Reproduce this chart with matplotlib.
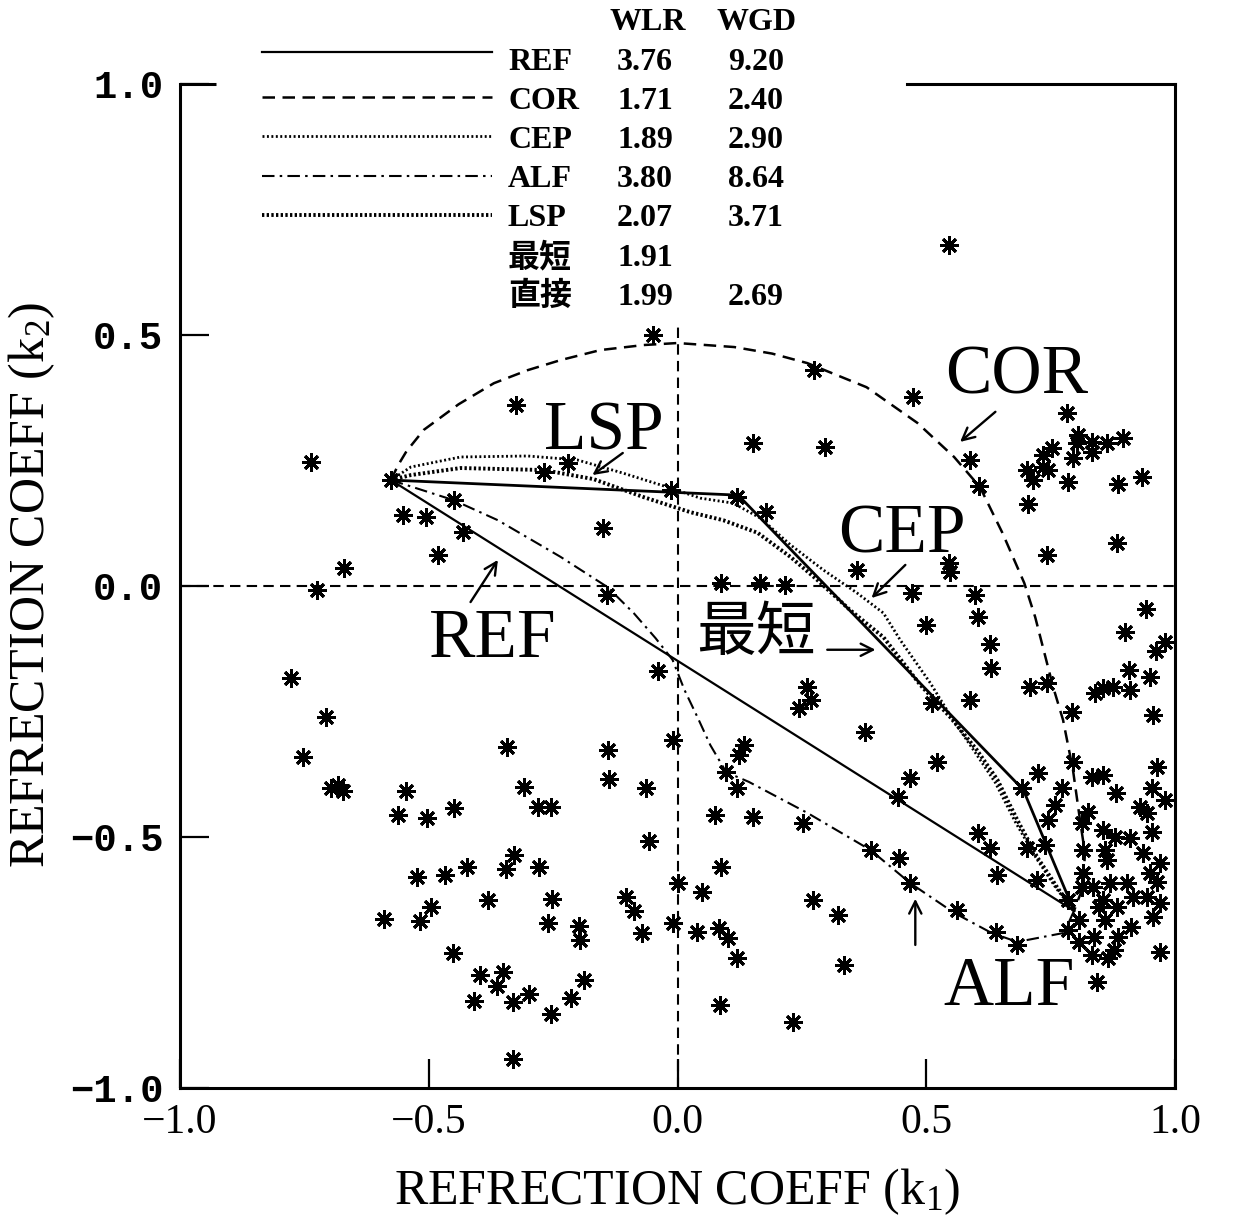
import numpy as np
import matplotlib
matplotlib.use('Agg')
from matplotlib import pyplot as plt
from matplotlib.lines import Line2D

plt.rcParams['font.family'] = ['Liberation Serif', 'Noto Sans CJK JP', 'DejaVu Sans']
plt.rcParams['mathtext.fontset'] = 'custom'
plt.rcParams['mathtext.rm'] = 'Liberation Serif'
plt.rcParams['mathtext.it'] = 'Liberation Serif:italic'

# --- trajectories in the (k1, k2) plane ---
ref_k1 = [-0.576, 0.797]
ref_k2 = [0.211, -0.647]

short_k1 = [-0.576, 0.122, 0.695, 0.797]
short_k2 = [0.211, 0.181, -0.406, -0.647]

cor_k1 = [-0.576, -0.562, -0.545, -0.510, -0.440, -0.369, -0.301, -0.235, -0.155, -0.068, 0.000, 0.114,
          0.190, 0.261, 0.380, 0.482, 0.556, 0.608, 0.653, 0.697, 0.719, 0.755, 0.775, 0.795, 0.809,
          0.819, 0.815, 0.797]
cor_k2 = [0.211, 0.240, 0.268, 0.311, 0.362, 0.404, 0.430, 0.450, 0.470, 0.480, 0.484, 0.476,
          0.463, 0.444, 0.396, 0.325, 0.257, 0.197, 0.106, 0.006, -0.062, -0.201, -0.267, -0.367, -0.466,
          -0.532, -0.600, -0.647]

cep_k1 = [-0.576, -0.536, -0.436, -0.301, -0.201, -0.110, -0.020, 0.046, 0.112, 0.167, 0.227, 0.293,
          0.361, 0.414, 0.448, 0.508, 0.554, 0.598, 0.639, 0.679, 0.721, 0.761, 0.797]
cep_k2 = [0.211, 0.237, 0.257, 0.259, 0.251, 0.225, 0.197, 0.175, 0.165, 0.135, 0.082, 0.032,
          -0.014, -0.054, -0.108, -0.193, -0.267, -0.331, -0.392, -0.470, -0.542, -0.602, -0.647]

lsp_k1 = [-0.576, -0.536, -0.436, -0.269, -0.169, -0.068, 0.026, 0.092, 0.161, 0.227, 0.281, 0.347,
          0.414, 0.488, 0.548, 0.602, 0.643, 0.683, 0.723, 0.763, 0.797]
lsp_k2 = [0.211, 0.221, 0.235, 0.231, 0.213, 0.177, 0.147, 0.131, 0.106, 0.058, 0.012, -0.048,
          -0.102, -0.197, -0.261, -0.327, -0.386, -0.466, -0.540, -0.600, -0.647]

alf_k1 = [-0.576, -0.450, -0.361, -0.235, -0.141, -0.088, -0.044, -0.010, 0.014, 0.040, 0.066, 0.098,
          0.143, 0.261, 0.388, 0.468, 0.556, 0.631, 0.683, 0.777, 0.797]
alf_k2 = [0.211, 0.171, 0.131, 0.058, -0.002, -0.054, -0.104, -0.147, -0.207, -0.261, -0.317, -0.371,
          -0.390, -0.452, -0.526, -0.592, -0.651, -0.691, -0.709, -0.691, -0.647]

# --- observed frames (asterisks) ---
upper_k1 = [0.546, -0.050, 0.275, -0.325, 0.474, 0.151, 0.297, -0.737, -0.576, -0.450, -0.552, -0.506,
            -0.432, -0.482, -0.671, -0.725, -0.269, -0.221, -0.149, -0.141, -0.014, 0.120, 0.177, 0.088,
            0.165, 0.217, 0.361, 0.546, 0.548, 0.472, 0.598, 0.604, 0.500, 0.588, 0.606, 0.783, 0.805,
            0.803, 0.833, 0.833, 0.863, 0.896, 0.753, 0.735, 0.735, 0.745, 0.703, 0.715, 0.795, 0.785,
            0.886, 0.934, 0.705, 0.743, 0.884, 0.942]
upper_k2 = [0.679, 0.500, 0.430, 0.361, 0.376, 0.285, 0.277, 0.247, 0.211, 0.171, 0.141, 0.137,
            0.108, 0.062, 0.036, -0.008, 0.227, 0.245, 0.116, -0.018, 0.191, 0.177, 0.147, 0.006,
            0.006, 0.002, 0.032, 0.046, 0.028, -0.014, -0.018, -0.062, -0.078, 0.251, 0.199, 0.345, 0.301,
            0.285, 0.287, 0.267, 0.285, 0.295, 0.275, 0.261, 0.237, 0.231, 0.231, 0.211, 0.255, 0.207,
            0.203, 0.217, 0.163, 0.062, 0.086, -0.046]

left_k1 = [-0.777, -0.707, -0.753, -0.697, -0.683, -0.673, -0.546, -0.562, -0.504, -0.450, -0.343, -0.309,
           -0.281, -0.255, -0.139, -0.137, -0.064, -0.040, -0.010, -0.058, 0.000, -0.010, -0.104, -0.088,
           -0.072, -0.197, -0.195, -0.187, -0.215, -0.255, -0.299, -0.331, -0.351, -0.363, -0.396, -0.410,
           -0.452, -0.380, -0.329, -0.345, -0.279, -0.253, -0.261, -0.424, -0.468, -0.524, -0.496, -0.518,
           -0.590, -0.331]
left_k2 = [-0.183, -0.261, -0.341, -0.402, -0.396, -0.408, -0.408, -0.456, -0.462, -0.442, -0.321, -0.400,
           -0.440, -0.440, -0.327, -0.384, -0.402, -0.169, -0.307, -0.508, -0.592, -0.671, -0.620, -0.647,
           -0.691, -0.677, -0.705, -0.785, -0.821, -0.853, -0.813, -0.829, -0.769, -0.797, -0.775, -0.827,
           -0.731, -0.625, -0.536, -0.564, -0.560, -0.624, -0.671, -0.560, -0.576, -0.580, -0.639, -0.667,
           -0.663, -0.942]

mid_k1 = [0.261, 0.269, 0.245, 0.376, 0.512, 0.133, 0.124, 0.098, 0.120, 0.076, 0.151, 0.253, 0.388, 0.446,
          0.468, 0.468, 0.444, 0.088, 0.050, 0.040, 0.084, 0.102, 0.120, 0.273, 0.323, 0.335, 0.086, 0.233]
mid_k2 = [-0.201, -0.227, -0.243, -0.291, -0.233, -0.317, -0.337, -0.371, -0.402, -0.456, -0.460, -0.472,
          -0.526, -0.542, -0.592, -0.382, -0.420, -0.560, -0.610, -0.689, -0.681, -0.701, -0.741, -0.625,
          -0.655, -0.755, -0.835, -0.869]

right_k1 = [0.900, 0.629, 0.980, 0.962, 0.908, 0.950, 0.631, 0.709, 0.743, 0.839, 0.855, 0.876, 0.910,
            0.793, 0.956, 0.588, 0.522, 0.795, 0.725, 0.773, 0.693, 0.759, 0.745, 0.739, 0.703, 0.723,
            0.833, 0.855, 0.882, 0.964, 0.954, 0.980, 0.930, 0.944, 0.954, 0.825, 0.813, 0.855, 0.880,
            0.910, 0.859, 0.863, 0.815, 0.936, 0.970, 0.950, 0.964, 0.604, 0.629, 0.643, 0.562, 0.815,
            0.813, 0.835, 0.869, 0.904, 0.916, 0.944, 0.970, 0.855, 0.884, 0.785, 0.847, 0.859, 0.912,
            0.807, 0.785, 0.807, 0.837, 0.886, 0.833, 0.865, 0.878, 0.970, 0.843, 0.956, 0.641, 0.683]
right_k2 = [-0.092, -0.116, -0.112, -0.129, -0.167, -0.181, -0.163, -0.201, -0.193, -0.213, -0.203, -0.201,
            -0.207, -0.251, -0.257, -0.227, -0.351, -0.351, -0.373, -0.402, -0.402, -0.436, -0.466, -0.516,
            -0.522, -0.586, -0.380, -0.376, -0.412, -0.361, -0.402, -0.426, -0.440, -0.452, -0.490, -0.450,
            -0.472, -0.486, -0.500, -0.502, -0.526, -0.546, -0.526, -0.532, -0.552, -0.572, -0.590, -0.492,
            -0.522, -0.576, -0.645, -0.572, -0.600, -0.600, -0.592, -0.592, -0.620, -0.620, -0.631, -0.625,
            -0.639, -0.625, -0.639, -0.665, -0.679, -0.665, -0.685, -0.709, -0.699, -0.699, -0.735, -0.741,
            -0.725, -0.729, -0.789, -0.659, -0.689, -0.715]

# --- score table ---
leg_names = ['REF', 'COR', 'CEP', 'ALF', 'LSP', '最短', '直接']
leg_wlr = ['3.76', '1.71', '1.89', '3.80', '2.07', '1.91', '1.99']
leg_wgd = ['9.20', '2.40', '2.90', '8.64', '3.71', '', '2.69']

W, H = 1237, 1219
fig = plt.figure(figsize=(W / 100, H / 100), dpi=100)
ax = fig.add_axes([180 / W, 131 / H, 995 / W, 1004 / H])
ax.set_xlim(-1, 1)
ax.set_ylim(-1, 1)


def fx(px):
    return px / W


def fy(py):
    return 1 - py / H


styles = {
    'REF': dict(color='black', lw=1.6, ls='-'),
    'COR': dict(color='black', lw=1.8, dashes=(5, 3)),
    'CEP': dict(color='black', lw=2.0, dashes=(0.7, 0.9)),
    'ALF': dict(color='black', lw=1.5, dashes=(6, 2.5, 1.2, 2.5)),
    'LSP': dict(color='black', lw=2.8, dashes=(0.6, 0.6)),
}

# crosshair through the origin
ax.axhline(0, color='black', lw=1.5, dashes=(5, 3))
ax.axvline(0, ymax=0.762, color='black', lw=1.5, dashes=(5, 3))

ax.plot(ref_k1, ref_k2, **styles['REF'])
ax.plot(short_k1, short_k2, color='black', lw=2.0)
ax.plot(cor_k1, cor_k2, **styles['COR'])
ax.plot(cep_k1, cep_k2, **styles['CEP'])
ax.plot(lsp_k1, lsp_k2, **styles['LSP'])
ax.plot(alf_k1, alf_k2, **styles['ALF'])

all_k1 = upper_k1 + left_k1 + mid_k1 + right_k1
all_k2 = upper_k2 + left_k2 + mid_k2 + right_k2
ax.plot(all_k1, all_k2, ls='none', marker=(8, 2, 0), ms=13, mew=2.1, color='black')

# frame: top edge is interrupted by the score table
for s in ['left', 'bottom', 'right']:
    ax.spines[s].set_linewidth(2.2)
ax.spines['top'].set_visible(False)
ax.plot([-1, -0.928], [1, 1], color='black', lw=2.2, clip_on=False, solid_capstyle='butt')
ax.plot([0.462, 1], [1, 1], color='black', lw=2.2, clip_on=False, solid_capstyle='projecting')

ax.set_xticks([-1, -0.5, 0, 0.5, 1])
ax.set_yticks([-1, -0.5, 0, 0.5, 1])
ax.set_xticklabels(['−1.0', '−0.5', '0.0', '0.5', '1.0'], fontsize=30)
ax.set_yticklabels(['−1.0', '−0.5', '0.0', '0.5', '1.0'], fontsize=28, weight='bold',
                   family=['Liberation Mono', 'DejaVu Sans Mono'])
ax.tick_params(direction='in', length=21, width=1.6, top=False, right=False)
ax.tick_params(axis='x', pad=11)
ax.tick_params(axis='y', pad=12)

# method labels with arrows
big = 50
ax.text(0.538, 0.384, 'COR', fontsize=big, ha='left', va='baseline')
ax.text(-0.269, 0.271, 'LSP', fontsize=big, ha='left', va='baseline')
ax.text(0.323, 0.066, 'CEP', fontsize=big, ha='left', va='baseline')
ax.text(-0.500, -0.141, 'REF', fontsize=big, ha='left', va='baseline')
ax.text(0.534, -0.835, 'ALF', fontsize=big, ha='left', va='baseline')
ax.text(0.157, -0.094, '最短', fontsize=43, ha='center', va='center', family='Noto Sans CJK JP')

arrows = [((0.639, 0.347), (0.568, 0.287)),
          ((-0.110, 0.265), (-0.171, 0.221)),
          ((0.458, 0.042), (0.390, -0.024)),
          ((-0.416, -0.032), (-0.361, 0.052)),
          ((0.301, -0.127), (0.398, -0.127)),
          ((0.478, -0.715), (0.478, -0.623))]
for tail, tip in arrows:
    ax.annotate('', xy=tip, xytext=tail,
                arrowprops=dict(arrowstyle='->', lw=1.7, mutation_scale=22, color='black',
                                shrinkA=0, shrinkB=0))

# score table above the plot
tfs = 23
fig.text(fx(648), fy(22), 'WLR', fontsize=tfs, ha='center', va='center', weight='bold')
fig.text(fx(757), fy(22), 'WGD', fontsize=tfs, ha='center', va='center', weight='bold')
legend_keys = ['REF', 'COR', 'CEP', 'ALF', 'LSP']
for i, name in enumerate(leg_names):
    yc = 62 + 39.2 * i
    fig.text(fx(508), fy(yc), name, fontsize=tfs, ha='left', va='center', weight='bold')
    fig.text(fx(645), fy(yc), leg_wlr[i], fontsize=tfs, ha='center', va='center', weight='bold')
    fig.text(fx(756), fy(yc), leg_wgd[i], fontsize=tfs, ha='center', va='center', weight='bold')
    if name in legend_keys:
        ly = yc - (10 if i == 0 else 4)
        fig.add_artist(Line2D([fx(262), fx(492)], [fy(ly), fy(ly)],
                              transform=fig.transFigure, **styles[name]))

fig.text(fx(677), fy(1192), r'REFRECTION COEFF ($\mathrm{k_1}$)', fontsize=36, ha='center', va='center')
fig.text(fx(32), fy(585), r'REFRECTION COEFF ($\mathrm{k_2}$)', fontsize=36, ha='center', va='center',
         rotation=90)

fig.savefig('out.png', dpi=100)
